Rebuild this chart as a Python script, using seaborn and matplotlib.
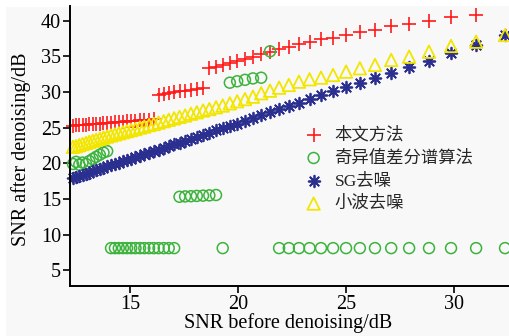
import numpy as np
import pandas as pd
import matplotlib
matplotlib.use("Agg")
import matplotlib.pyplot as plt
from matplotlib.patches import Rectangle
import seaborn as sns

# SNR of the noisy input (dB)
snr_in = [12.36, 12.50, 12.65, 12.80, 12.96, 13.11, 13.27, 13.43, 13.60, 13.77,
          13.94, 14.12, 14.30, 14.48, 14.67, 14.86, 15.05, 15.25, 15.46, 15.66,
          15.88, 16.10, 16.32, 16.56, 16.79, 17.04, 17.29, 17.55, 17.82, 18.09,
          18.38, 18.67, 18.98, 19.29, 19.62, 19.96, 20.32, 20.69, 21.07, 21.48,
          21.90, 22.35, 22.82, 23.31, 23.84, 24.40, 25.00, 25.64, 26.34, 27.09,
          27.92, 28.84, 29.86, 31.02, 32.36]

# Output SNR of the proposed method (dB)
snr_proposed = [25.25, 25.30, 25.33, 25.37, 25.42, 25.45, 25.50, 25.53, 25.57, 25.62,
                25.66, 25.70, 25.74, 25.78, 25.82, 25.86, 25.90, 25.95, 26.00, 26.05,
                26.10, 26.15,
                29.60, 29.72, 29.85, 29.95, 30.08, 30.20, 30.33, 30.45, 30.60,
                33.32, 33.55, 33.78, 34.02, 34.33, 34.63, 34.95,
                35.29, 35.65, 36.03, 36.35, 36.69, 37.01, 37.39, 37.62, 38.04, 38.37,
                38.70, 39.26, 39.54, 39.96, 40.48, 40.80]

# Output SNR of the singular value difference spectrum method (dB)
snr_svd = [19.9, 20.2, 19.8, 20.1, 19.9, 20.3, 20.6, 20.9, 21.2, 21.5, 21.7,
           8.1, 8.1, 8.1, 8.1, 8.1, 8.1, 8.1, 8.1, 8.1, 8.1, 8.1, 8.1, 8.1, 8.1, 8.1,
           15.30, 15.35, 15.38, 15.42, 15.46, 15.50, 15.55,
           8.1,
           31.3, 31.5, 31.7, 31.9, 32.0,
           35.7,
           8.1, 8.1, 8.1, 8.1, 8.1, 8.1, 8.1, 8.1, 8.1, 8.1, 8.1, 8.1, 8.1, 8.1, 8.1]

# Output SNR of Savitzky-Golay smoothing (dB)
snr_sg = [18.0, 18.1, 18.25, 18.4, 18.55, 18.7, 18.85, 19.0, 19.2, 19.35,
          19.55, 19.7, 19.9, 20.1, 20.25, 20.45, 20.65, 20.85, 21.05, 21.25,
          21.5, 21.7, 21.9, 22.15, 22.4, 22.65, 22.9, 23.15, 23.4, 23.7,
          24.0, 24.3, 24.6, 24.9, 25.2, 25.55, 25.9,
          26.31, 26.77, 27.15, 27.57, 28.04, 28.50, 29.02, 29.58, 30.14, 30.66,
          31.30, 32.01, 32.71, 33.55, 34.39, 35.43, 36.59, 37.99]

# Output SNR of wavelet denoising (dB)
snr_wavelet = [22.3, 22.4, 22.55, 22.7, 22.85, 23.0, 23.15, 23.3, 23.45, 23.6,
               23.75, 23.9, 24.05, 24.2, 24.35, 24.5, 24.65, 24.8, 25.0, 25.15,
               25.35, 25.5, 25.7, 25.9, 26.1, 26.3, 26.5, 26.7, 26.95, 27.15,
               27.4, 27.6, 27.85, 28.1, 28.4, 28.7, 29.0,
               29.34, 29.82, 30.18, 30.60, 30.98, 31.44, 31.78, 32.01, 32.38, 32.85,
               33.32, 33.79, 34.49, 34.95, 35.65, 36.45, 37.05, 37.99]

labels = ["本文方法", "奇异值差分谱算法", "SG去噪", "小波去噪"]
x_ticks = [15, 20, 25, 30]
y_ticks = [5, 10, 15, 20, 25, 30, 35, 40]

sns.set_theme(style="ticks")
plt.rcParams["font.family"] = ["Liberation Serif", "Noto Sans CJK SC"]
plt.rcParams["axes.unicode_minus"] = False

W, H = 510, 336
bg = "#f8f8f8"
fig = plt.figure(figsize=(W / 100, H / 100), dpi=100, facecolor=bg)
# thin white margin along the left and top edges of the canvas
fig.patches.append(Rectangle((0, 0), 6 / W, 1, transform=fig.transFigure,
                             facecolor="white", edgecolor="none", zorder=-1))
fig.patches.append(Rectangle((0, 1 - 7 / H), 1, 7 / H, transform=fig.transFigure,
                             facecolor="white", edgecolor="none", zorder=-1))

# axes box in pixels (left, bottom, width, height); its bottom edge sits 285.7 px from the top
ax_left, ax_bottom, ax_w, ax_h = 70, 50.3, 440, 279.3
ax_base = H - ax_bottom
ax = fig.add_axes([ax_left / W, ax_bottom / H, ax_w / W, ax_h / H])
ax.set_facecolor(bg)

sns.scatterplot(x=snr_in[:len(snr_proposed)], y=snr_proposed, ax=ax, marker="+",
                s=95, color="#ff1a1a", linewidth=1.2, label=labels[0], clip_on=False)
sns.scatterplot(x=snr_in, y=snr_svd, ax=ax, marker="o", s=62,
                facecolor="none", edgecolor="#3cb33c", linewidth=1.1,
                label=labels[1], clip_on=False)
sns.scatterplot(x=snr_in, y=snr_sg, ax=ax, marker=(8, 2, 0), s=70,
                color="#2b2f8f", edgecolor="#2b2f8f", linewidth=1.3,
                label=labels[2], clip_on=False)
sns.scatterplot(x=snr_in, y=snr_wavelet, ax=ax, marker="^", s=80,
                facecolor="none", edgecolor="#f2e600", linewidth=1.3,
                label=labels[3], clip_on=False)

ax.set_xlim(12.22, 32.59)
ax.set_ylim(2.83, 42.0)
ax.set_xticks(x_ticks)
ax.set_yticks(y_ticks)
ax.tick_params(axis="both", direction="out", length=5, width=1.2,
               labelsize=14.5, colors="black", pad=1.5)
for side in ("top", "right"):
    ax.spines[side].set_visible(False)
for side in ("left", "bottom"):
    ax.spines[side].set_linewidth(1.4)
    ax.spines[side].set_color("black")

ax.set_xlabel("SNR before denoising/dB", fontsize=14.5, color="black")
ax.set_ylabel("SNR after denoising/dB", fontsize=14.5, color="black")
ax.xaxis.set_label_coords(0.495, (ax_base - 313) / ax_h)
ax.yaxis.set_label_coords((31 - ax_left) / ax_w, 0.49)

leg = ax.legend(loc="upper left",
                bbox_to_anchor=((298 - ax_left) / ax_w, (ax_base - 120) / ax_h),
                frameon=False, fontsize=12.5, handletextpad=0.7,
                labelspacing=0.38, borderaxespad=0, handlelength=1.0)

fig.savefig("out.png", dpi=100, facecolor=fig.get_facecolor())
